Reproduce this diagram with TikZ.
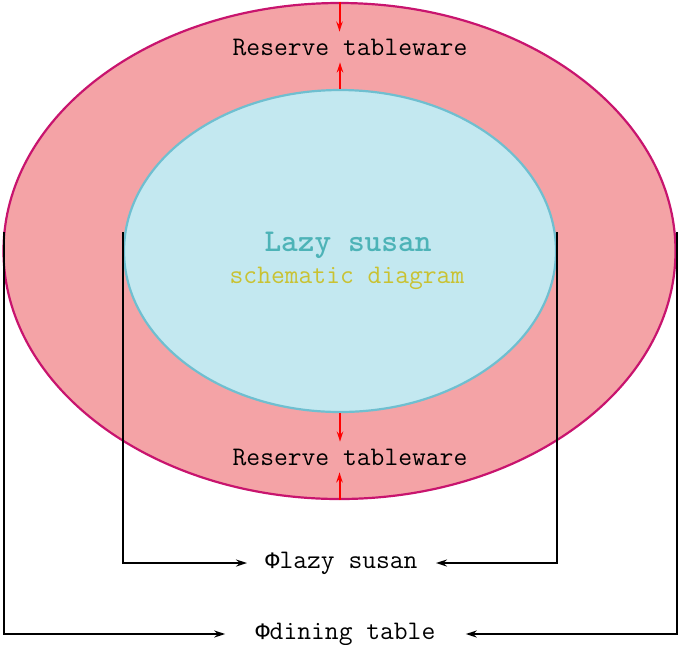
\documentclass[tikz,border=0pt]{standalone}
\usepackage{fontspec}
\newfontfamily\phifont{Liberation Mono}
\usetikzlibrary{shapes.geometric,arrows.meta}
\definecolor{tablefill}{HTML}{F4A3A6}
\definecolor{tableline}{HTML}{C8146E}
\definecolor{susanfill}{HTML}{C3E8F0}
\definecolor{susanline}{HTML}{6FBFD0}
\definecolor{titleteal}{HTML}{4DB3B7}
\definecolor{subyellow}{HTML}{C9C232}
\newcommand{\diam}{{\phifont\fontsize{11.75}{14}\selectfont Φ}}
\begin{document}
\begin{tikzpicture}[x=0.5pt,y=-0.5pt,
    lbl/.style={font=\ttfamily\fontsize{13.4}{16}\selectfont,inner sep=0},
    ttl/.style={font=\ttfamily\fontseries{b}\fontsize{15.9}{18}\selectfont},
    dim/.style={-{Stealth[length=5.5pt,width=3.5pt]},line width=0.9pt},
    gap/.style={red,-{Stealth[length=5pt,width=3.2pt]},line width=1pt}]
  \useasboundingbox (0,0) rectangle (679,644);
  \node[ellipse,draw=tableline,fill=tablefill,line width=1.1pt,inner sep=0,
    minimum width=336pt,minimum height=248pt](table) at (339.5,251) {};
  \node[ellipse,draw=susanline,fill=susanfill,line width=1.1pt,inner sep=0,
    minimum width=216pt,minimum height=161pt](susan) at (340,251) {};
  % labels
  \node[lbl,minimum height=15pt](top) at (350,47) {Reserve tableware};
  \node[lbl,minimum height=15pt](bot) at (350,457) {Reserve tableware};
  \node[ttl,text=titleteal](title) at (348,245) {Lazy susan};
  \node[lbl,text=subyellow](sub) at (347,278) {schematic diagram};
  \node[lbl,inner xsep=9pt](ls) at (341.5,563) {\diam lazy susan};
  \node[lbl,inner xsep=15pt](dt) at (345.5,634) {\diam dining table};
  % red arrows
  \draw[gap] (table.north) -- (table.north |- top.north);
  \draw[gap] (susan.north) -- (susan.north |- top.south);
  \draw[gap] (susan.south) -- (susan.south |- bot.north);
  \draw[gap] (table.south) -- (table.south |- bot.south);
  % dimension lines
  \coordinate(tl) at (4,232);
  \coordinate(tr) at (677,232);
  \coordinate(sl) at (123,232);
  \coordinate(sr) at (557,232);
  \draw[dim] (sl) |- (ls.west);
  \draw[dim] (sr) |- (ls.east);
  \draw[dim] (tl) |- (dt.west);
  \draw[dim] (tr) |- (dt.east);
\end{tikzpicture}
\end{document}
